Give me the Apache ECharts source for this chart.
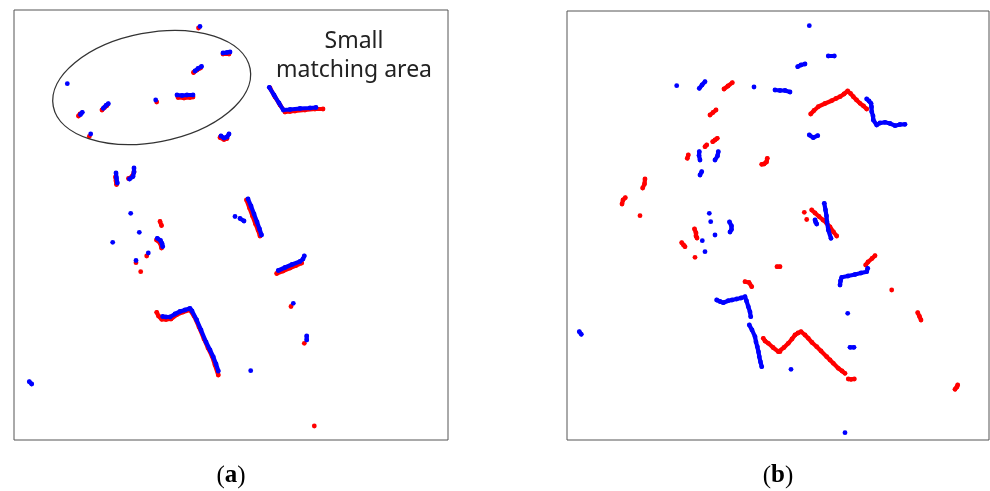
<!DOCTYPE html>
<html><head><meta charset="utf-8">
<script src="https://cdn.jsdelivr.net/npm/echarts@6/dist/echarts.min.js"></script>
<style>html,body{margin:0;padding:0;background:#fff}#c{width:990px;height:491px}</style>
</head><body><div id="c"></div>
<script>
// Panel (a) – point segments (image pixel coordinates)
var aBlue = [
  [[200,26.5]],
  [[223,53],[227,52.5],[230,52]],
  [[195,71],[198,68.5],[201.5,66.5]],
  [[67.3,83.7]],
  [[177,95],[182,95.5],[187,95],[193,95]],
  [[155.7,100]],
  [[103.3,108.3],[106,105.5],[108.3,103.7]],
  [[82.3,112.3],[80.5,114.5]],
  [[90.7,134]],
  [[221,136],[224,138],[227,137],[229,134]],
  [[116,173],[116.5,178],[117.3,183]],
  [[134,168],[134,172],[133,176.5],[129.5,179]],
  [[130.7,213.3]],
  [[235,216.5]],
  [[240,218.5],[244,221]],
  [[248,199],[251,206],[254,214],[257,222],[259.5,229],[261.5,235]],
  [[269.3,87.3],[274,95],[279,103],[283.3,110],[290,109.5],[300,108.5],[310,108],[316,107.5]],
  [[139.3,232.3]],
  [[112.7,242.3]],
  [[157.3,238.3],[160.5,240.5],[162,243.5],[162.7,246.5]],
  [[148.3,253]],
  [[136,260.5]],
  [[162.7,316.5],[166,317],[170,317],[175,314],[180,311.5],[185,310],[190,308.3],[192,311],[196.7,320],[201,330],[206,342],[210,350],[213.3,357],[216,364],[218.3,371]],
  [[29.3,381.7],[31.7,384]],
  [[278.3,270.5],[285,267.5],[292,264.5],[300,261.5],[303,259],[304.3,256]],
  [[293.3,303.3]],
  [[306.7,336],[306.7,340]],
  [[250.7,370.7]]
];
var aRed = [
  [[198.5,28]],
  [[223,54],[229,54]],
  [[193.5,72.5],[197,70],[200.5,68]],
  [[178,97.5],[184,98],[190,97.5],[193,97]],
  [[156.7,102]],
  [[102,110],[104.5,107.5],[107,105.5]],
  [[80,114],[78.5,116]],
  [[89.3,136.5]],
  [[220,137.5],[224,139.5],[227,138.5]],
  [[115.5,177],[116,181],[116.5,184.5]],
  [[134,172],[132,176.5],[128.5,178.5]],
  [[270,88],[275,97],[280,105],[285,112],[290,111.5],[295,111],[305,110],[315,109],[323,109]],
  [[246.5,200],[249.5,208],[252.5,216],[255.5,224],[258,230],[260,236]],
  [[160,221.5],[161.5,225.5]],
  [[156.5,240],[160,243],[161.5,248]],
  [[146.7,256]],
  [[136,262.7]],
  [[140.7,271.7]],
  [[156.7,312.3],[158.5,316],[161.7,319.3],[166,319.5],[171,319],[177,314.5],[183,312],[190,310],[194,316],[199,327],[204,339],[208,348],[212,356],[215,365],[218.3,375]],
  [[276.7,273.5],[283,271],[290,268],[296,265.5],[301.7,263]],
  [[291,306.5]],
  [[304.3,343.3]],
  [[314.3,426]]
];
// Panel (b)
var bBlue = [
  [[676.7,85.7]],
  [[699.3,88.3],[702,85],[705,81.7]],
  [[754,87]],
  [[775,90],[780,90.5],[785,90.5],[790,92]],
  [[699.3,151.7],[699,155.5],[700,160]],
  [[718.3,151.7],[717.5,156],[715,160]],
  [[701.7,171.7],[700,175]],
  [[709.3,213.3]],
  [[710.7,221.7]],
  [[729.5,222],[731.5,226],[731.5,229.5],[730,232]],
  [[715,235]],
  [[702.3,240.7]],
  [[705,251.7]],
  [[809.3,25.7]],
  [[828.3,56],[834.3,56]],
  [[797.7,66.7],[801,65],[805,64]],
  [[866.7,99],[869,101],[871,103.3],[871.5,107],[871.7,111.7],[873,116],[873.3,120],[876.7,125],[880,123],[885,122.3],[890,123.5],[895,125.7],[900,124.5],[905,124.3]],
  [[809.3,135],[813.3,137.7],[817.7,135.7]],
  [[824.3,203.3],[825.5,210],[826.5,216],[827,222],[828.3,230],[831,238.3]],
  [[815,220],[815.5,222],[816.7,224]],
  [[716.7,300],[720,301.5],[723.3,302.7],[728.3,300.7],[732,300],[736.7,299],[741,298],[745,296.7],[746.5,301],[748.3,306.7],[750,312],[750.7,316.7]],
  [[749.3,325],[752,330],[755,336.7],[756,342],[757.3,346.7],[758.5,352],[759.3,356.7],[760.5,362],[761.7,366.7]],
  [[579.3,331.7],[581.3,334.3]],
  [[867.7,268.3],[866.7,271.7],[861,273],[855,274.5],[848,276],[841.7,277.3],[840.5,281],[840,285]],
  [[847.7,313.3]],
  [[850,347.3],[854,347.3]],
  [[791,369.3]],
  [[845,432.7]]
];
var bRed = [
  [[724,89],[728,86],[732.3,82.7]],
  [[710,115],[713,112.5],[716,110]],
  [[712.7,141.7],[715,140],[717.3,138.3]],
  [[705,146.7],[706.7,145]],
  [[687.3,158.3],[688.3,155]],
  [[767.3,158.3],[766.5,162],[764,164],[761.7,164.3]],
  [[645,179],[644.5,184],[642.7,188]],
  [[625.3,197.7],[623,200],[622,204]],
  [[640,215.7]],
  [[810.7,114],[814,110.5],[818.3,106.7],[825,103.5],[831.7,100.7],[836,98.5],[840,96.7],[844,94],[847.7,91],[850.5,93.5],[853.3,96.7],[856.5,100],[860,103.3],[863.5,106],[866.7,109]],
  [[694.5,229],[696,233],[696,236],[697,238]],
  [[681.7,242.7],[683.5,245],[685,246.7]],
  [[695,257.3]],
  [[777,266.7],[780,266.7]],
  [[745,281.7],[749,282.5],[751.7,286.7]],
  [[763.3,338.3],[765,341],[768.3,343.3],[773,347.5],[778.3,351.7],[780,351.7],[784,347.5],[788.3,343.3],[792,339],[795,335],[798,333],[801,331.7],[805,335],[808.3,338.3],[812,342.5],[816.7,346.7],[821,351],[826.7,356.7],[830,360],[833.3,363.3],[838.3,368.3],[842,371],[845,373.3]],
  [[848.3,379],[851,379.3],[854.3,379]],
  [[804.3,212.3]],
  [[806.7,219.5]],
  [[811.7,210],[815,213],[819,216.5],[823,220],[826.7,223.3],[830,227],[833.5,232],[836.7,236]],
  [[865.7,265],[868,262],[872,258.5],[875,255.7]],
  [[891.7,290]],
  [[917.7,312.7],[919.5,316.5],[921,320]],
  [[957.7,385],[957,387],[955,389.3]]
];
var panelA = {xMin:14, xMax:448, yMin:10, yMax:440};
var panelB = {xMin:567, xMax:989, yMin:11, yMax:440};
var ellipseA = {cx:151.7, cy:87.5, rx:100.2, ry:54.8, angleDeg:10.8};
var noteLines = ['Small', 'matching area'];
var panelLabels = ['a', 'b'];

var BLUE = '#0000ff', RED = '#ff0000';
function segSeries(segs, color, gi) {
  return segs.map(function (s) {
    return {
      type: 'line', xAxisIndex: gi, yAxisIndex: gi, data: s,
      showSymbol: true, symbol: 'circle', symbolSize: 4.8,
      itemStyle: {color: color},
      lineStyle: {color: color, width: 4.2, cap: 'round', join: 'round'},
      silent: true, animation: false, z: color === BLUE ? 3 : 2
    };
  });
}
var chart = echarts.init(document.getElementById('c'), null, {renderer: 'canvas'});
function grid(p) {
  return {left: p.xMin, top: p.yMin, width: p.xMax - p.xMin, height: p.yMax - p.yMin,
    show: true, borderColor: '#555', borderWidth: 1, backgroundColor: '#fff', containLabel: false};
}
function xax(p, gi) { return {type: 'value', gridIndex: gi, min: p.xMin, max: p.xMax, show: false}; }
function yax(p, gi) { return {type: 'value', gridIndex: gi, min: p.yMin, max: p.yMax, inverse: true, show: false}; }

var series = [].concat(segSeries(aRed, RED, 0), segSeries(aBlue, BLUE, 0),
                       segSeries(bRed, RED, 1), segSeries(bBlue, BLUE, 1));
chart.setOption({
  backgroundColor: '#fff',
  animation: false,
  grid: [grid(panelA), grid(panelB)],
  xAxis: [xax(panelA, 0), xax(panelB, 1)],
  yAxis: [yax(panelA, 0), yax(panelB, 1)],
  series: series
});
var c = chart.convertToPixel({gridIndex: 0}, [ellipseA.cx, ellipseA.cy]);
var labRich = {
  p: {fontFamily: 'Liberation Serif', fontSize: 25, color: '#111'},
  b: {fontFamily: 'Liberation Serif', fontSize: 25, fontWeight: 'bold', color: '#111'}
};
chart.setOption({
  graphic: [
    {type: 'ellipse', x: c[0], y: c[1], rotation: ellipseA.angleDeg * Math.PI / 180,
      shape: {cx: 0, cy: 0, rx: ellipseA.rx, ry: ellipseA.ry},
      style: {fill: 'none', stroke: '#333', lineWidth: 1.3}, z: 10, silent: true},
    {type: 'text', x: 354, y: 41, style: {text: noteLines[0], fontFamily: 'Noto Sans', fontSize: 23,
      fill: '#222', align: 'center', verticalAlign: 'middle'}, z: 10},
    {type: 'text', x: 354, y: 70, style: {text: noteLines[1], fontFamily: 'Noto Sans', fontSize: 23,
      fill: '#222', align: 'center', verticalAlign: 'middle'}, z: 10},
    {type: 'text', x: (panelA.xMin + panelA.xMax) / 2, y: 476, style: {text: '{p|(}{b|' + panelLabels[0] + '}{p|)}',
      rich: labRich, align: 'center', verticalAlign: 'middle'}, z: 10},
    {type: 'text', x: (panelB.xMin + panelB.xMax) / 2, y: 476, style: {text: '{p|(}{b|' + panelLabels[1] + '}{p|)}',
      rich: labRich, align: 'center', verticalAlign: 'middle'}, z: 10}
  ]
});
</script></body></html>
